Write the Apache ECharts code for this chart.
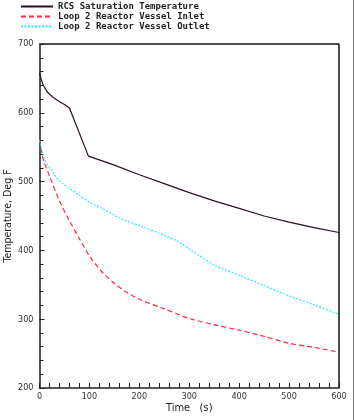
<!DOCTYPE html>
<html>
<head>
<meta charset="utf-8">
<script src="https://cdn.jsdelivr.net/npm/echarts@6/dist/echarts.min.js"></script>
<style>html,body{margin:0;padding:0;background:#fff;}#c{width:355px;height:420px;}</style>
</head>
<body>
<div id="c"></div>
<script>
var seriesNames = ['RCS Saturation Temperature', 'Loop 2 Reactor Vessel Inlet', 'Loop 2 Reactor Vessel Outlet'];
var rcsTimes = [0, 3, 6, 10, 15, 20, 30, 40, 50, 60, 98, 150, 200, 250, 300, 350, 400, 450, 500, 550, 600];
var rcsSat = [658, 650, 643, 637, 631, 627, 621, 616, 612, 607, 537, 524, 510, 497, 484, 472, 461, 450, 441, 433, 426];
var times = [0, 5, 10, 20, 40, 60, 80, 100, 125, 150, 175, 200, 250, 275, 300, 350, 400, 450, 500, 550, 600];
var rvInlet = [560, 540, 527, 508, 472, 443, 417, 392, 369, 352, 339, 329, 315, 308, 301, 292, 284, 275, 265, 259, 252];
var rvOutlet = [560, 545, 533, 520, 501, 490, 480, 470, 461, 451, 443, 436, 422, 414, 402, 379, 364, 349, 334, 321, 307];
var xTicks = [0, 100, 200, 300, 400, 500, 600];
var yTicks = [200, 300, 400, 500, 600, 700];

function pairs(ts, vals) { return ts.map(function (t, i) { return [t, vals[i]]; }); }

var chart = echarts.init(document.getElementById('c'), null, { renderer: 'canvas' });
var fam = 'Liberation Sans Narrow, DejaVu Sans Condensed, Liberation Sans, sans-serif';
var tickFont = { fontFamily: fam, fontSize: 9, color: '#333' };
chart.setOption({
  animation: false,
  backgroundColor: '#fff',
  legend: {
    show: true, orient: 'vertical', left: 15, top: 0, padding: [2, 5], itemWidth: 32, itemHeight: 8, itemGap: 1,
    itemStyle: { opacity: 0 },
    textStyle: { fontFamily: 'DejaVu Sans Mono', fontSize: 9, lineHeight: 8, fontWeight: 'bold', color: '#222' },
    data: seriesNames
  },
  grid: { left: 39.5, right: 16, top: 44, bottom: 32, containLabel: false, outerBoundsMode: 'none' },
  xAxis: {
    type: 'value', min: xTicks[0], max: xTicks[xTicks.length - 1], interval: 100,
    name: 'Time   (s)', nameLocation: 'middle', nameGap: 15, nameMoveOverlap: false,
    nameTextStyle: { fontFamily: fam, fontSize: 11, color: '#222' },
    axisLine: { show: true, lineStyle: { color: '#222', width: 1.5 } },
    axisTick: { show: true, inside: true, length: 5, lineStyle: { color: '#222' } },
    minorTick: { show: true, splitNumber: 5, length: 5, lineStyle: { color: '#222' } },
    axisLabel: Object.assign({ margin: 4 }, tickFont),
    splitLine: { show: false }
  },
  yAxis: {
    type: 'value', min: yTicks[0], max: yTicks[yTicks.length - 1], interval: 100,
    name: 'Temperature, Deg F', nameLocation: 'middle', nameGap: 26, nameMoveOverlap: false,
    nameTextStyle: { fontFamily: fam, fontSize: 10.5, color: '#222' },
    axisLine: { show: true, lineStyle: { color: '#555', width: 2 } },
    axisTick: { show: true, inside: true, length: 5, lineStyle: { color: '#222' } },
    minorTick: { show: true, splitNumber: 5, length: 4, lineStyle: { color: '#222' } },
    axisLabel: Object.assign({ margin: 6 }, tickFont),
    splitLine: { show: false }
  },
  graphic: [
    { type: 'line', shape: { x1: 39.5, y1: 44, x2: 339, y2: 44 }, style: { stroke: '#111', lineWidth: 1.5 } },
    { type: 'line', shape: { x1: 339, y1: 44, x2: 339, y2: 388 }, style: { stroke: '#111', lineWidth: 1.5 } },
    { type: 'line', shape: { x1: 353.5, y1: 0, x2: 353.5, y2: 420 }, style: { stroke: '#777', lineWidth: 1 } }
  ],
  series: [
    { name: seriesNames[0], type: 'line', data: pairs(rcsTimes, rcsSat), symbol: 'none', smooth: false,
      lineStyle: { color: '#2a0e28', width: 1.2 }, itemStyle: { color: '#2a0e28' } },
    { name: seriesNames[1], type: 'line', data: pairs(times, rvInlet), symbol: 'none', smooth: 0.3,
      lineStyle: { color: '#ff2a3a', width: 1.2, type: [5, 3] }, itemStyle: { color: '#ff2a3a' } },
    { name: seriesNames[2], type: 'line', data: pairs(times, rvOutlet), symbol: 'none', smooth: 0.3,
      lineStyle: { color: '#22eeff', width: 1.2, type: [2, 1.5] }, itemStyle: { color: '#22eeff' } }
  ]
});
</script>
</body>
</html>
